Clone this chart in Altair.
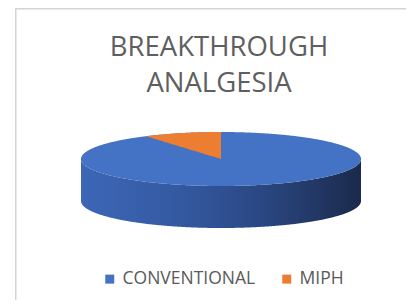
import math
import altair as alt

# ---- data ----
categories = ["CONVENTIONAL", "MIPH"]
values = [91, 9]
colors = ["#4472C4", "#ED7D31"]
title_lines = ["BREAKTHROUGH", "ANALGESIA"]

# ---- layout (plot-area pixels) ----
W, H = 398, 292
CX, CY, RX, RY, DEPTH = 213, 151, 140, 27, 42
N = 400

total = sum(values)
A = 2 * math.pi * values[1] / total  # last slice ends at 12 o'clock

X = alt.X("x:Q", scale=alt.Scale(domain=[0, W], nice=False, zero=False), axis=None)
Y = alt.Y("y:Q", scale=alt.Scale(domain=[0, H], nice=False, zero=False, reverse=True), axis=None)
color_scale = alt.Scale(domain=categories, range=colors)
legend = alt.Legend(
    title=None, orient="none", legendX=93, legendY=262, direction="horizontal",
    symbolType="square", symbolSize=81, symbolStrokeWidth=0,
    labelFont="Open Sans", labelFontSize=17.5, labelColor="#595959",
    labelOffset=4, columnPadding=22,
)

ring = alt.Chart(alt.sequence(0, N + 1, 1, as_="i")).transform_calculate(
    u=f"-cos(PI*datum.i/{N})", v=f"sin(PI*datum.i/{N})"
)

side_grad = alt.LinearGradient(
    gradient="linear", x1=0, x2=1, y1=0, y2=0,
    stops=[
        alt.GradientStop(color="#3c67b6", offset=0),
        alt.GradientStop(color="#3459a2", offset=0.35),
        alt.GradientStop(color="#2a4782", offset=0.65),
        alt.GradientStop(color="#1b2a4b", offset=1),
    ],
)

side = ring.transform_calculate(
    x=f"{CX}+{RX}*datum.u",
    y=f"{CY}+{RY}*datum.v",
    y2=f"{CY}+{RY}*datum.v+{DEPTH}",
).mark_area(color=side_grad).encode(x=X, y=Y, y2="y2:Q")

top = ring.transform_calculate(
    x=f"{CX}+{RX}*datum.u",
    y=f"{CY}-{RY}*datum.v",
    y2=f"{CY}+{RY}*datum.v",
    series=f"'{categories[0]}'",
).mark_area().encode(
    x=X, y=Y, y2="y2:Q",
    color=alt.Color("series:N", scale=color_scale, legend=legend),
)

M = 100
wedge = alt.Chart(alt.sequence(0, M + 1, 1, as_="i")).transform_calculate(
    phi=f"{A}*datum.i/{M}"
).transform_calculate(
    x=f"{CX}-{RX}*sin(datum.phi)",
    y=f"{CY}-{RY}*cos(datum.phi)",
    y2=f"{CY}-{RY}*sin(datum.phi)*{math.cos(A)}/{math.sin(A)}",
    series=f"'{categories[1]}'",
).mark_area().encode(
    x=X, y=Y, y2="y2:Q",
    color=alt.Color("series:N", scale=color_scale, legend=legend),
)

frame_top = alt.Chart().mark_rule(color="#d4d4d4", strokeWidth=1.5).encode(
    x=alt.value(7), x2=alt.value(W), y=alt.value(0.75)
)
frame_left = alt.Chart().mark_rule(color="#d4d4d4", strokeWidth=1.5).encode(
    x=alt.value(7.75), y=alt.value(0), y2=alt.value(H)
)

chart = alt.layer(side, top, wedge, frame_top, frame_left).properties(
    width=W, height=H, padding=0, autosize="none",
    title=alt.TitleParams(
        title_lines, font="Open Sans", fontSize=27.5, fontWeight="normal",
        color="#5f5f5f", lineHeight=36, anchor="middle",
        baseline="alphabetic", offset=-112, dx=12,
    ),
).configure_view(stroke=None)

chart.save("out.html", embed_options={"renderer": "svg", "actions": False})
